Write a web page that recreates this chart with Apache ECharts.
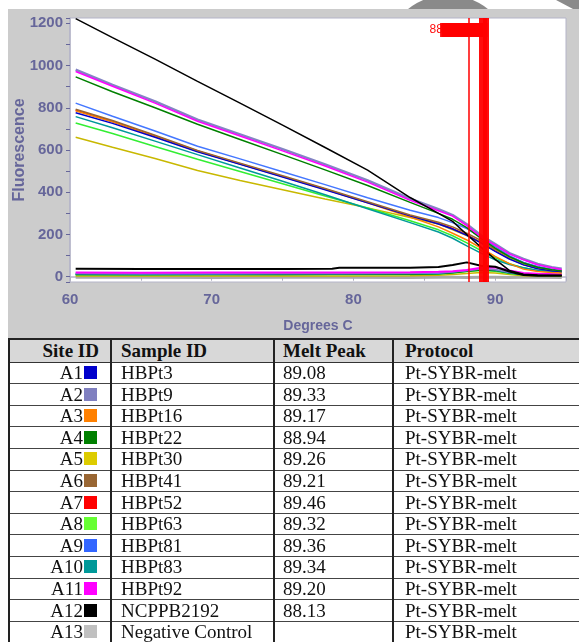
<!DOCTYPE html>
<html><head><meta charset="utf-8">
<script src="https://cdn.jsdelivr.net/npm/echarts@6/dist/echarts.min.js"></script>
<style>
html,body{margin:0;padding:0;background:#fff;}
body{width:579px;height:642px;overflow:hidden;position:relative;}
#chart{position:absolute;left:0;top:0;width:579px;height:339px;}
#tbl{position:absolute;left:0;top:0;width:579px;height:642px;font-family:'Liberation Serif','Times New Roman',serif;color:#111;pointer-events:none;}
.t{position:absolute;font-size:19px;white-space:nowrap;}
.ln{position:absolute;}
</style>
</head><body>
<div id="chart"></div>
<div id="tbl"></div>
<script>
// ---- data ----
const temps = [60.4, 63, 66, 69, 72, 75, 78, 81, 84, 86, 87, 88, 89, 90, 91, 92, 93, 94, 94.7];
const meltA1  = [776, 726, 660, 592, 532, 472, 412, 350, 288, 250, 226, 196, 160, 120, 84, 56, 38, 28, 25];
const meltA2  = [980, 908, 830, 744, 674, 604, 532, 456, 370, 320, 292, 248, 196, 155, 112, 84, 60, 45, 38];
const meltA3  = [786, 734, 664, 594, 534, 474, 414, 350, 282, 236, 206, 174, 136, 96, 62, 36, 25, 20, 18];
const meltA4  = [946, 876, 800, 722, 650, 578, 506, 432, 352, 300, 272, 232, 182, 135, 95, 65, 45, 33, 28];
const meltA5  = [660, 613, 560, 503, 456, 412, 368, 326, 280, 250, 222, 195, 162, 128, 90, 58, 40, 30, 27];
const meltA6  = [793, 740, 670, 598, 538, 478, 418, 355, 292, 258, 236, 206, 172, 130, 96, 66, 45, 33, 28];
const meltA7  = [788, 735, 666, 595, 535, 475, 415, 352, 288, 252, 228, 198, 162, 122, 88, 58, 40, 30, 26];
const meltA8  = [728, 678, 617, 556, 498, 440, 382, 325, 265, 222, 194, 160, 124, 90, 62, 42, 30, 24, 20];
const meltA9  = [822, 760, 690, 618, 558, 497, 436, 374, 315, 280, 256, 228, 188, 142, 100, 68, 48, 36, 30];
const meltA10 = [758, 705, 642, 578, 515, 452, 388, 322, 256, 212, 182, 146, 112, 80, 58, 42, 30, 25, 22];
const meltA11 = [972, 902, 822, 736, 666, 596, 524, 448, 362, 312, 287, 242, 188, 150, 108, 80, 57, 42, 34];
const meltA12 = [1222, 1132, 1030, 925, 822, 718, 612, 505, 375, 300, 262, 200, 140, 82, 30, 12, 8, 7, 7];

const dTemps = [60.4, 65, 70, 75, 78.5, 79, 84, 86, 87, 88, 89, 90, 91, 92, 93, 94.7];
const derivA2  = [16, 15, 16, 16, 16, 16, 17, 19, 24, 30, 36, 34, 22, 14, 11, 10];
const derivA4  = [11, 11, 11, 11, 12, 12, 12, 14, 19, 26, 32, 30, 19, 10, 8, 7];
const derivA5  = [4, 4, 4, 4, 4, 4, 5, 7, 10, 15, 20, 18, 10, 5, 3, 3];
const derivA8  = [9, 9, 10, 10, 10, 10, 11, 13, 18, 25, 30, 26, 15, 8, 6, 5];
const derivA9  = [14, 13, 13, 14, 14, 14, 15, 17, 22, 30, 38, 33, 20, 12, 9, 8];
const derivA10 = [12, 11, 12, 12, 12, 12, 13, 15, 20, 28, 34, 30, 18, 10, 8, 7];
const derivA11 = [20, 19, 20, 20, 20, 20, 21, 23, 26, 32, 42, 45, 30, 18, 14, 12];
const derivA12 = [38, 36, 37, 37, 38, 42, 42, 46, 55, 68, 52, 47, 25, 8, 5, 5];
const derivA13 = [-3, -3, -4, -3, -3, -3, -4, -3, -3, -4, -3, -3, -4, -3, -3, -4];

const siteIds   = ['A1','A2','A3','A4','A5','A6','A7','A8','A9','A10','A11','A12','A13'];
const sampleIds = ['HBPt3','HBPt9','HBPt16','HBPt22','HBPt30','HBPt41','HBPt52','HBPt63','HBPt81','HBPt83','HBPt92','NCPPB2192','Negative Control'];
const meltPeaks = ['89.08','89.33','89.17','88.94','89.26','89.21','89.46','89.32','89.36','89.34','89.20','88.13',''];
const protocols = ['Pt-SYBR-melt','Pt-SYBR-melt','Pt-SYBR-melt','Pt-SYBR-melt','Pt-SYBR-melt','Pt-SYBR-melt','Pt-SYBR-melt','Pt-SYBR-melt','Pt-SYBR-melt','Pt-SYBR-melt','Pt-SYBR-melt','Pt-SYBR-melt','Pt-SYBR-melt'];
const siteColors = ['#0000cc','#8080c0','#ff8000','#008000','#ddcc00','#996633','#ff0000','#66ff33','#3366ff','#009999','#ff00ff','#000000','#c0c0c0'];
const lineColors = ['#0000cc','#8484c4','#ff8000','#008000','#c8b800','#996633','#ff0000','#33ee33','#4477ff','#009999','#ff00ff','#000000','#a8a8a8'];
const tableHeaders = ['Site ID','Sample ID','Melt Peak','Protocol'];

// ---- chart ----
const axisColor = '#66669a';
const axisFont = '"Liberation Sans", Arial, sans-serif';
const pts = (xs, ys) => xs.map((x, i) => [x, ys[i]]);
function ln(name, xs, ys, color, w) {
  return {name, type:'line', data: pts(xs, ys), showSymbol:false, symbol:'none',
    lineStyle:{color, width: w || 1.5}, itemStyle:{color}, animation:false, silent:true};
}
const series = [
  ln('A13 d', dTemps, derivA13, lineColors[12], 3),
  ln('A5 d', dTemps, derivA5, lineColors[4]),
  ln('A8 d', dTemps, derivA8, lineColors[7]),
  ln('A10 d', dTemps, derivA10, lineColors[9]),
  ln('A4 d', dTemps, derivA4, lineColors[3]),
  ln('A9 d', dTemps, derivA9, lineColors[8]),
  ln('A2 d', dTemps, derivA2, lineColors[1]),
  ln('A11 d', dTemps, derivA11, lineColors[10], 2),
  ln('A12 d', dTemps, derivA12, lineColors[11], 2),
  ln('A7', temps, meltA7, lineColors[6]),
  ln('A5', temps, meltA5, lineColors[4]),
  ln('A8', temps, meltA8, lineColors[7]),
  ln('A10', temps, meltA10, lineColors[9]),
  ln('A3', temps, meltA3, lineColors[2]),
  ln('A1', temps, meltA1, lineColors[0]),
  ln('A6', temps, meltA6, lineColors[5]),
  ln('A9', temps, meltA9, lineColors[8]),
  ln('A4', temps, meltA4, lineColors[3]),
  ln('A2', temps, meltA2, lineColors[1], 2.5),
  ln('A11', temps, meltA11, lineColors[10]),
  ln('A12', temps, meltA12, lineColors[11])
];
// melt peak markers (88.13 first so others overlay)
const peakOrder = [11,0,1,2,3,4,5,6,7,8,9,10];
const markData = peakOrder.map(i => {
  const v = parseFloat(meltPeaks[i]);
  const first = i === 11;
  return {xAxis: v, lineStyle:{width: first ? 1.6 : 2},
    label:{backgroundColor: first ? 'transparent' : '#ff0000'}};
});
series.push({
  name:'peaks', type:'line', data:[], z:10, animation:false, silent:true,
  markLine:{
    silent:true, animation:false, symbol:['none','none'],
    lineStyle:{color:'#ff0000', type:'solid', width:2, opacity:0.95},
    label:{show:true, position:'end', formatter: p => p.value.toFixed(2),
      color:'#ff0000', fontSize:12, fontFamily:axisFont, fontWeight:'normal',
      align:'right', verticalAlign:'middle', distance:-12, padding:[1,9,1,1]},
    emphasis:{disabled:true},
    data: markData
  }
});

const chart = echarts.init(document.getElementById('chart'), null, {renderer:'canvas'});
chart.setOption({
  backgroundColor:'#ffffff',
  animation:false,
  graphic:[
    {type:'circle', shape:{cx:448, cy:59, r:64}, style:{fill:'#8a8a8a'}, z:-20, silent:true},
    {type:'polygon', shape:{points:[[556,0],[579,0],[579,9],[573,9]]}, style:{fill:'#8a8a8a'}, z:-20, silent:true},
    {type:'rect', shape:{x:8, y:9, width:571, height:330}, style:{fill:'#cccccc'}, z:-10, silent:true}
  ],
  grid:{left:70, top:18, right:13, bottom:57, containLabel:false, outerBoundsMode:'none',
    show:true, backgroundColor:'#ffffff', borderColor:'#b4b4c8', borderWidth:1},
  xAxis:{
    type:'value', min:60, max:95, interval:10,
    name:'Degrees C', nameLocation:'middle', nameGap:37, nameMoveOverlap:false,
    nameTextStyle:{color:axisColor, fontSize:14, fontWeight:'bold', fontFamily:axisFont},
    axisLine:{show:true, lineStyle:{color:'#b4b4c8', width:1.5}},
    axisTick:{show:true, length:4, lineStyle:{color:'#b0b0c0'}},
    minorTick:{show:true, splitNumber:2, length:4, lineStyle:{color:'#b0b0c0'}},
    splitLine:{show:false},
    axisLabel:{color:axisColor, fontSize:15, fontWeight:'bold', fontFamily:axisFont, margin:10, showMaxLabel:false,
      formatter: v => String(v)}
  },
  yAxis:{
    type:'value', min:-25, max:1225, splitNumber:6,
    name:'Fluorescence', nameLocation:'middle', nameGap:42, nameMoveOverlap:false,
    nameTextStyle:{color:axisColor, fontSize:16, fontWeight:'bold', fontFamily:axisFont},
    axisLine:{show:true, lineStyle:{color:'#b4b4c8', width:1.5}},
    axisTick:{show:true, length:4, lineStyle:{color:axisColor}},
    minorTick:{show:true, splitNumber:2, length:4, lineStyle:{color:axisColor}},
    splitLine:{show:false},
    axisLabel:{color:axisColor, fontSize:15, fontWeight:'bold', fontFamily:axisFont, margin:7, showMinLabel:false, showMaxLabel:false,
      formatter: v => String(v)}
  },
  series
});

// ---- table ----
const tbl = document.getElementById('tbl');
function add(cls, css, text) {
  const d = document.createElement('div');
  d.className = cls; d.style.cssText = css;
  if (text !== undefined) d.textContent = text;
  tbl.appendChild(d); return d;
}
const headTop = 340, headH = 22, rowTop = 362, rowH = 21.6;
add('ln', `left:8px;top:${headTop}px;width:571px;height:${headH}px;background:#d8d8d8;`);
add('ln', `left:8px;top:338px;width:571px;height:2px;background:#222;`);
add('ln', `left:8px;top:${rowTop-0.5}px;width:571px;height:1.5px;background:#333;`);
for (let i = 0; i < siteIds.length; i++) {
  const y = rowTop + (i + 1) * rowH;
  add('ln', `left:8px;top:${y-0.5}px;width:571px;height:1px;background:#444;`);
}
[8, 109.5, 272.5, 391.5].forEach(x => add('ln', `left:${x}px;top:338px;width:2px;height:304px;background:#222;`));
const colLeft = [0, 121, 283, 405];
// header
add('t', `left:8px;width:91px;text-align:right;top:${headTop}px;line-height:${headH}px;font-weight:bold;`, tableHeaders[0]);
for (let c = 1; c < 4; c++) add('t', `left:${colLeft[c]}px;top:${headTop}px;line-height:${headH}px;font-weight:bold;`, tableHeaders[c]);
// rows
for (let i = 0; i < siteIds.length; i++) {
  const y = rowTop + i * rowH;
  add('t', `left:8px;width:75px;text-align:right;top:${y}px;line-height:${rowH}px;`, siteIds[i]);
  add('ln', `left:84px;top:${y+4}px;width:13px;height:13px;background:${siteColors[i]};`);
  add('t', `left:${colLeft[1]}px;top:${y}px;line-height:${rowH}px;`, sampleIds[i]);
  add('t', `left:${colLeft[2]}px;top:${y}px;line-height:${rowH}px;`, meltPeaks[i]);
  add('t', `left:${colLeft[3]}px;top:${y}px;line-height:${rowH}px;`, protocols[i]);
}
</script>
</body></html>
